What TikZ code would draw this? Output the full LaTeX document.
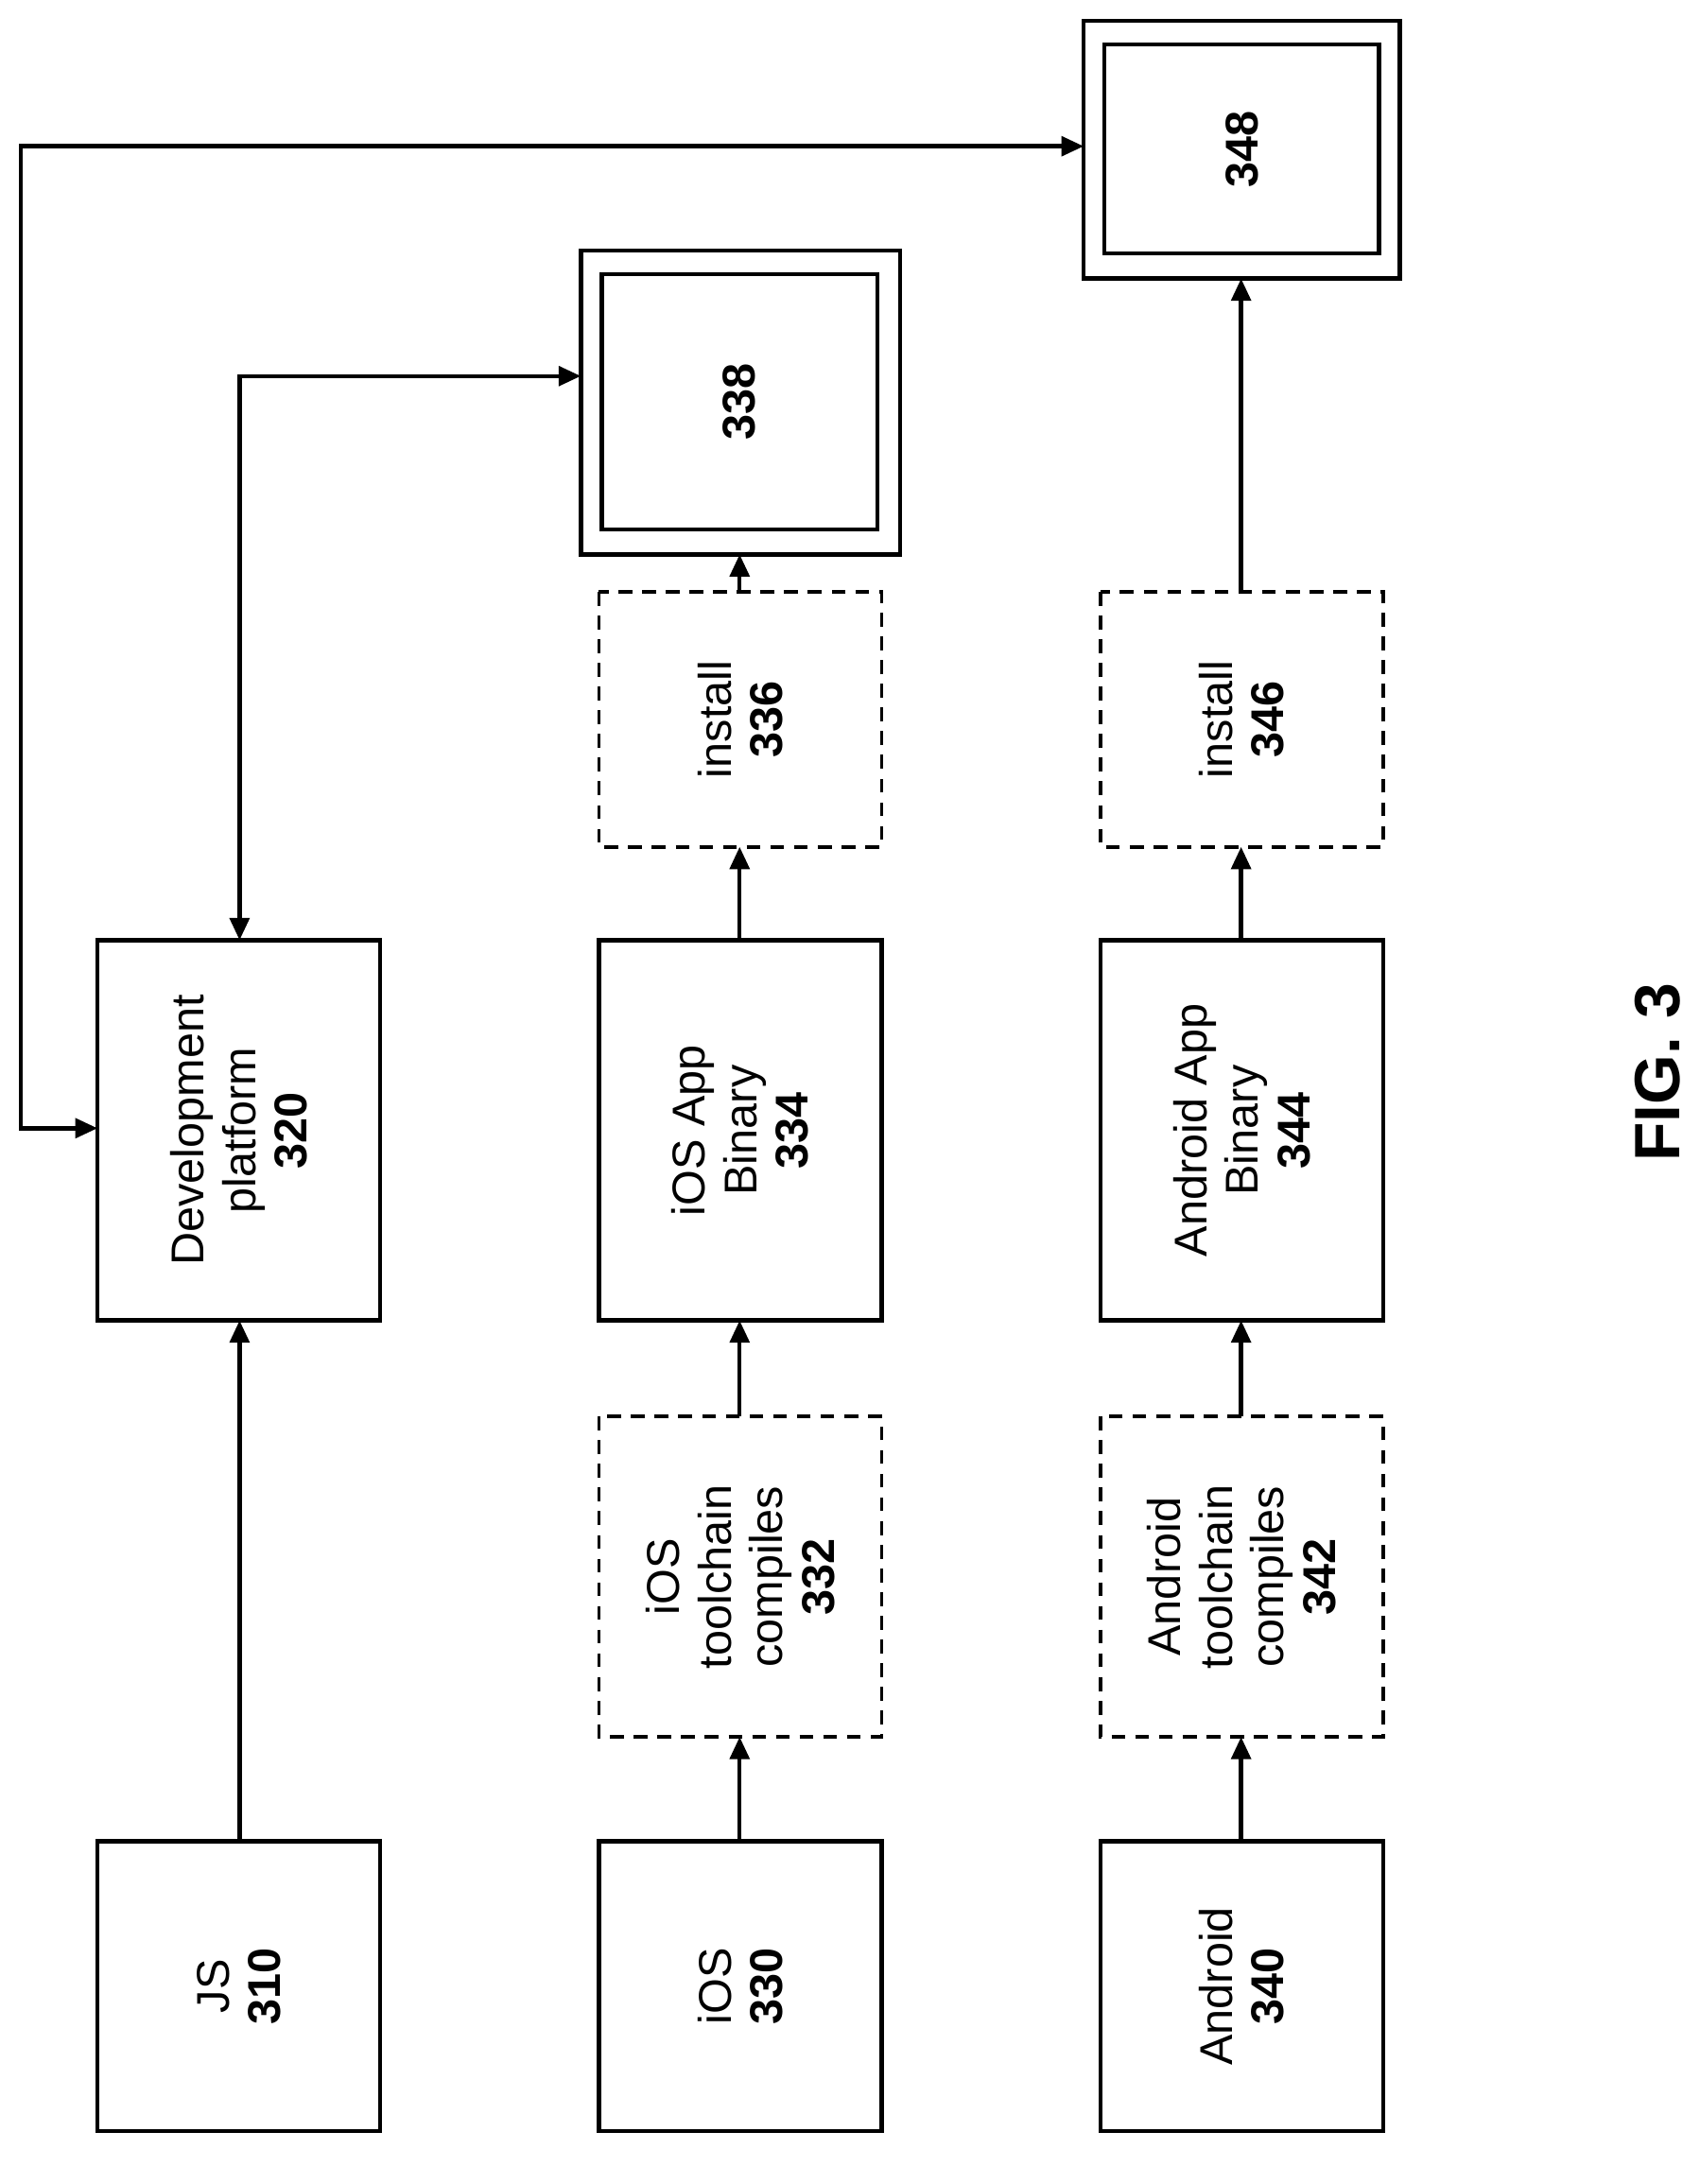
\documentclass[tikz,border=0pt]{standalone}
\usepackage{fontspec}
\setmainfont{Liberation Sans}
\usetikzlibrary{arrows.meta}
\begin{document}
\begin{tikzpicture}[x=1pt,y=-1pt,line width=3pt,
 box/.style={draw,line width=3pt},
 dbox/.style={draw,line width=2.5pt,dash pattern=on 10pt off 7pt},
 lbl/.style={rotate=90,align=center,font=\fontsize{33}{37}\selectfont},
 arr/.style={-{Triangle[length=16pt,width=14pt]},line width=3pt}]
\useasboundingbox (0,0) rectangle (1220,1568);
\newcommand\bx[6]{\draw[#6] (#2,#3) rectangle (#4,#5); \node[lbl] (#1) at ({(#2+#4)/2},{(#3+#5)/2}) {};}
% nodes
\draw[box] (70,1322) rectangle (273,1530) node[lbl,midway] (js) {JS\\\textbf{310}};
\draw[box] (70,675) rectangle (273,948) node[lbl,midway] (dev) {Development\\platform\\\textbf{320}};
\draw[box] (430,1322) rectangle (633,1530) node[lbl,midway] (ios) {iOS\\\textbf{330}};
\draw[dbox] (430,1017) rectangle (633,1247) node[lbl,midway] (iost) {iOS\\toolchain\\compiles\\\textbf{332}};
\draw[box] (430,675) rectangle (633,948) node[lbl,midway] (iosb) {iOS App\\Binary\\\textbf{334}};
\draw[dbox] (430,425) rectangle (633,608) node[lbl,midway] (iosi) {install\\\textbf{336}};
\draw[box] (417,180) rectangle (646,398); \draw[box] (432,197) rectangle (630,380) node[lbl,midway] (d338) {\textbf{338}};
\draw[box] (790,1322) rectangle (993,1530) node[lbl,midway] (and) {Android\\\textbf{340}};
\draw[dbox] (790,1017) rectangle (993,1247) node[lbl,midway] (andt) {Android\\toolchain\\compiles\\\textbf{342}};
\draw[box] (790,675) rectangle (993,948) node[lbl,midway] (andb) {Android App\\Binary\\\textbf{344}};
\draw[dbox] (790,425) rectangle (993,608) node[lbl,midway] (andi) {install\\\textbf{346}};
\draw[box] (778,15) rectangle (1005,200); \draw[box] (793,32) rectangle (990,182) node[lbl,midway] (d348) {\textbf{348}};
\node[rotate=90,font=\fontsize{46}{50}\selectfont\bfseries] (fig) at (1190,770) {FIG. 3};
% connectors
\coordinate (a1) at (172,1322); \coordinate (a2) at (172,948);
\draw[arr] (a1) -- (a2);
\foreach \x in {531,891}{
 \draw[arr] (\x,1322) -- (\x,1247);
 \draw[arr] (\x,1017) -- (\x,948);
 \draw[arr] (\x,675) -- (\x,608);}
\draw[arr] (531,425) -- (531,398);
\draw[arr] (891,425) -- (891,200);
\draw[arr,{Triangle[length=16pt,width=14pt]}-{Triangle[length=16pt,width=14pt]}] (172,675) -- (172,270) -- (417,270);
\draw[arr,{Triangle[length=16pt,width=14pt]}-{Triangle[length=16pt,width=14pt]}] (70,810) -- (15,810) -- (15,105) -- (778,105);
\end{tikzpicture}
\end{document}
